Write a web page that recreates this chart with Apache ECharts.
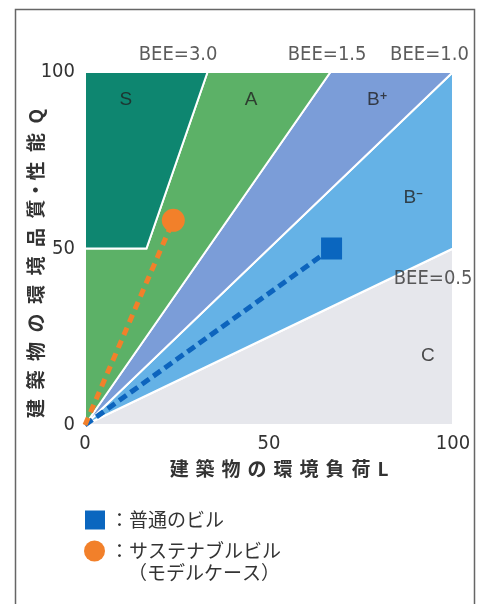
<!DOCTYPE html>
<html>
<head>
<meta charset="utf-8">
<script src="https://cdn.jsdelivr.net/npm/echarts@6/dist/echarts.min.js"></script>
<style>
html,body{margin:0;padding:0;background:#fff;}
#chart{width:481px;height:604px;}
</style>
</head>
<body>
<div id="chart"></div>
<script>
// ---- data ----
const xTicks = [0, 50, 100];
const yTicks = [0, 50, 100];
const regionNames = ['C', 'B⁻', 'B⁺', 'A', 'S'];
const regionColors = ['#e6e7ec', '#65b2e6', '#7b9dd8', '#5cb167', '#0e8670'];
const regionVertices = [
  [[0, 0], [100, 0], [100, 50]],
  [[0, 0], [100, 50], [100, 100]],
  [[0, 0], [100, 100], [66.7, 100]],
  [[0, 0], [66.7, 100], [33.3, 100], [16.7, 50], [0, 50]],
  [[0, 50], [16.7, 50], [33.3, 100], [0, 100]]
];
const regionLabelPos = [[93.2, 19.5], [89.2, 64.3], [79.4, 92], [45.1, 92], [11.1, 92]];
const beeNames = ['BEE=3.0', 'BEE=1.5', 'BEE=1.0', 'BEE=0.5'];
const beeLabelPos = [[25.3, 105], [65.8, 105], [93.6, 105], [94.6, 41.5]];
const normalBuilding = [[67, 50]];
const sustainableBuilding = [[24, 58]];
const normalPath = [[0, 0], [67, 50]];
const sustainablePath = [[0, 0], [24, 58]];
const seriesNames = ['普通のビル', 'サステナブルビル'];
const legendSubText = '（モデルケース）';

const numFont = "'Liberation Sans Narrow','DejaVu Sans Condensed','Roboto',sans-serif";
const jpFont = "'Noto Sans CJK JP','Noto Sans',sans-serif";
const gapX = '\u2009\u2006';

const chart = echarts.init(document.getElementById('chart'));
chart.setOption({
  backgroundColor: '#ffffff',
  animation: false,
  grid: { left: 85, top: 72, right: 28, bottom: 179, containLabel: false },
  xAxis: {
    type: 'value', min: 0, max: 100, interval: 50,
    axisLine: { show: false }, axisTick: { show: false }, splitLine: { show: false },
    axisLabel: { margin: 9, fontSize: 20, color: '#333', fontFamily: numFont,
      formatter: v => xTicks.includes(v) ? String(v) : '' },
    name: ['建','築','物','の','環','境','負','荷','L'].join(gapX),
    nameLocation: 'middle', nameGap: 34,
    nameTextStyle: { fontSize: 19, fontWeight: 'bold', color: '#333', fontFamily: jpFont,
      padding: [0, 0, 0, 20] }
  },
  yAxis: {
    type: 'value', min: 0, max: 100, interval: 50,
    axisLine: { show: false }, axisTick: { show: false }, splitLine: { show: false },
    axisLabel: { margin: 10, fontSize: 20, color: '#333', fontFamily: numFont,
      formatter: v => yTicks.includes(v) ? String(v) : '' },
    name: '建\u2002築\u2002物\u2002の\u2002環\u2002境\u2002品\u2002質・性\u2002能\u2002Q',
    nameLocation: 'middle', nameGap: 40, nameRotate: 90, nameMoveOverlap: false,
    nameTextStyle: { fontSize: 19, fontWeight: 'bold', color: '#333', fontFamily: jpFont,
      padding: [0, 30, 0, 0] }
  },
  legend: [
    {
      data: [seriesNames[0]], orient: 'vertical', left: 85, top: 508, padding: 0,
      itemWidth: 20, itemHeight: 19, selectedMode: false,
      formatter: n => '：' + n,
      textStyle: { fontSize: 19, color: '#333', fontFamily: jpFont, lineHeight: 24 }
    },
    {
      data: [seriesNames[1]], orient: 'vertical', left: 84, top: 539, padding: 0,
      itemWidth: 21, itemHeight: 21, selectedMode: false,
      formatter: n => '：' + n,
      textStyle: { fontSize: 19, color: '#333', fontFamily: jpFont, lineHeight: 24 }
    }
  ],
  graphic: [
    { type: 'rect', silent: true, z: 100,
      shape: { x: 15.5, y: 9.5, width: 459, height: 640 },
      style: { fill: null, stroke: '#666', lineWidth: 1.5 } },
    { type: 'text', silent: true, left: 128, top: 563,
      style: { text: legendSubText, fontSize: 19, fill: '#333', fontFamily: jpFont } }
  ],
  series: [
    {
      type: 'custom', name: 'regions', silent: true, z: 1,
      data: regionNames.map((n, i) => ({ name: n, value: [i, 0] })),
      renderItem: (params, api) => {
        const pts = regionVertices[params.dataIndex].map(p => api.coord(p));
        return { type: 'polygon', shape: { points: pts },
          style: { fill: regionColors[params.dataIndex], stroke: '#ffffff', lineWidth: 2 } };
      }
    },
    {
      type: 'scatter', name: 'regionLabels', silent: true, z: 3, symbolSize: 0,
      data: regionNames.map((n, i) => ({ name: n, value: regionLabelPos[i] })),
      label: { show: true, position: 'inside', formatter: p => p.name,
        fontSize: 19, color: '#222', fontFamily: "'Liberation Sans','Roboto',sans-serif" }
    },
    {
      type: 'scatter', name: 'beeLabels', silent: true, z: 3, symbolSize: 0, clip: false,
      data: beeNames.map((n, i) => ({ name: n, value: beeLabelPos[i] })),
      label: { show: true, position: 'inside', formatter: p => p.name,
        fontSize: 20, color: '#333', fontFamily: numFont }
    },
    {
      type: 'line', name: 'normalPath', silent: true, z: 4, showSymbol: false,
      data: normalPath,
      lineStyle: { color: '#0d64bd', width: 5, type: [9, 5] }
    },
    {
      type: 'line', name: 'sustainablePath', silent: true, z: 4, showSymbol: false,
      data: sustainablePath,
      lineStyle: { color: '#f2802a', width: 5, type: [8, 6] }
    },
    {
      type: 'scatter', name: seriesNames[0], z: 5, symbol: 'rect', symbolSize: [21, 22],
      data: normalBuilding, itemStyle: { color: '#0a66bf', opacity: 1 }
    },
    {
      type: 'scatter', name: seriesNames[1], z: 5, symbol: 'circle', symbolSize: 23,
      data: sustainableBuilding, itemStyle: { color: '#f2802a', opacity: 1 }
    }
  ]
});
</script>
</body>
</html>
